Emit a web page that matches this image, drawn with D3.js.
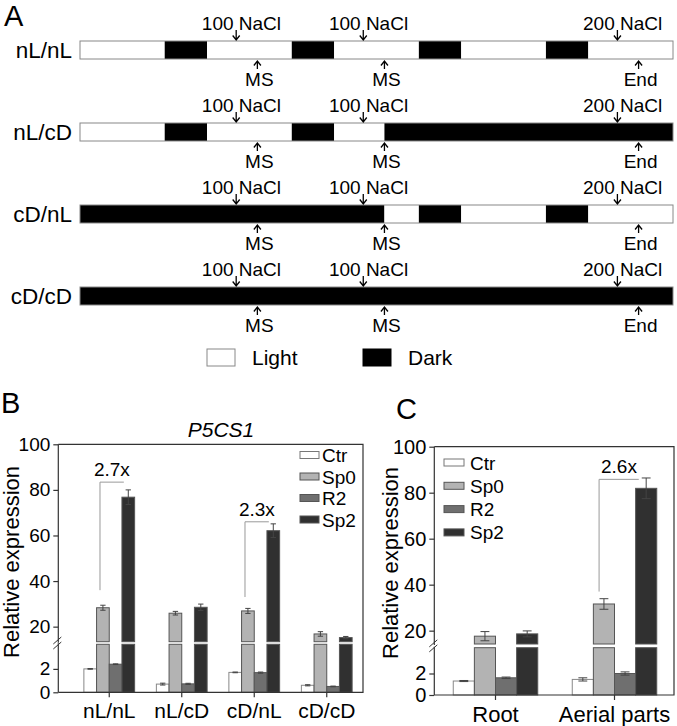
<!DOCTYPE html>
<html>
<head>
<meta charset="utf-8">
<script src="https://cdn.jsdelivr.net/npm/d3@7"></script>
<style>
  body { margin: 0; background: #fff; }
  svg { display: block; font-family: "Liberation Sans", Arial, sans-serif; }
</style>
</head>
<body>
<svg id="fig" width="677" height="726"></svg>
<script>
// ---- panel A: light schedules (hours) ----
const rows = ["nL/nL", "nL/cD", "cD/nL", "cD/cD"];
const schedules = [
    [[0, 16, "L"], [16, 24, "D"], [24, 40, "L"], [40, 48, "D"], [48, 64, "L"], [64, 72, "D"], [72, 88, "L"], [88, 96, "D"], [96, 112, "L"]],
    [[0, 16, "L"], [16, 24, "D"], [24, 40, "L"], [40, 48, "D"], [48, 57.5, "L"], [57.5, 112, "D"]],
    [[0, 57.5, "D"], [57.5, 64, "L"], [64, 72, "D"], [72, 88, "L"], [88, 96, "D"], [96, 112, "L"]],
    [[0, 112, "D"]]
];
const nacl100Times = [29.5, 53.5];
const nacl200Times = [101.5];
const msTimes = [33.5, 57.5];
const endTimes = [105.5];

// ---- panel B ----
const series = ["Ctr", "Sp0", "R2", "Sp2"];
const groupsB = ["nL/nL", "nL/cD", "cD/nL", "cD/cD"];
const ctrB = [2.0, 0.7, 1.7, 0.6];
const sp0B = [28.3, 25.9, 26.9, 16.8];
const r2B = [2.4, 0.72, 1.68, 0.5];
const sp2B = [76.8, 28.5, 62.1, 15.2];
const ctrErrB = [0.03, 0.08, 0.03, 0.05];
const sp0ErrB = [1.1, 0.8, 1.1, 1.0];
const r2ErrB = [0.03, 0.05, 0.05, 0.03];
const sp2ErrB = [3.2, 1.4, 3.0, 0.5];
const foldB = [
    { group: "nL/nL", label: "2.7x", top: 83.4, bottom: 36 },
    { group: "cD/nL", label: "2.3x", top: 66, bottom: 33 }
];

// ---- panel C ----
const groupsC = ["Root", "Aerial parts"];
const ctrC = [1.3, 1.45];
const sp0C = [17.6, 31.6];
const r2C = [1.6, 2.0];
const sp2C = [18.6, 81.9];
const ctrErrC = [0.05, 0.15];
const sp0ErrC = [2.0, 2.3];
const r2ErrC = [0.07, 0.15];
const sp2ErrC = [1.3, 4.5];
const foldC = [
    { group: "Aerial parts", label: "2.6x", top: 85.8, bottom: 37 }
];

const upperTicks = [20, 40, 60, 80, 100];
const lowerTicks = [0, 2];

const fills = { Ctr: "#ffffff", Sp0: "#b3b3b3", R2: "#6f6f6f", Sp2: "#303030" };

const svg = d3.select("#fig");

// ================= Panel A =================
function drawPanelA() {
    const g = svg.append("g");
    const tx = d3.scaleLinear().domain([0, 112]).range([80, 673]);
    const rowTop = d3.scalePoint().domain(rows).range([41, 287]);
    const barH = 18;

    g.append("text").attr("x", 4).attr("y", 26)
        .attr("font-size", 29).text("A");

    rows.forEach((r, i) => {
        const T = rowTop(r);
        const rg = g.append("g");

        rg.selectAll("rect.seg")
            .data(schedules[i])
            .join("rect")
            .attr("x", d => tx(d[0]))
            .attr("width", d => tx(d[1]) - tx(d[0]))
            .attr("y", T)
            .attr("height", barH)
            .attr("fill", d => d[2] === "L" ? "#fff" : "#000");

        rg.append("rect")
            .attr("x", tx(0)).attr("y", T)
            .attr("width", tx(112) - tx(0)).attr("height", barH)
            .attr("fill", "none").attr("stroke", "#888").attr("stroke-width", 1);

        rg.append("text")
            .attr("x", 72).attr("y", T + 16.5)
            .attr("text-anchor", "end")
            .attr("font-size", 22.5)
            .text(r);

        // salt additions: arrows pointing down into the bar
        const salt = nacl100Times.map(t => [t, "100 NaCl"])
            .concat(nacl200Times.map(t => [t, "200 NaCl"]));
        salt.forEach(([t, txt]) => {
            const x = tx(t);
            downArrow(rg, x, T - 11, T - 1);
            const lab = rg.append("text").attr("y", T - 11)
                .attr("font-size", 19).text(txt);
            const n = lab.node();
            const wNum = n.getSubStringLength(0, 3);
            const wSp = n.getSubStringLength(3, 1);
            lab.attr("x", x - wNum - wSp / 2);
        });

        // sampling: arrows pointing up from below
        const samp = msTimes.map(t => [t, "MS"]).concat(endTimes.map(t => [t, "End"]));
        samp.forEach(([t, txt]) => {
            const x = tx(t);
            upArrow(rg, x, T + barH + 2, T + barH + 10);
            rg.append("text")
                .attr("x", x + 2).attr("y", T + barH + 27)
                .attr("text-anchor", "middle")
                .attr("font-size", 19).text(txt);
        });
    });

    // legend
    const lg = g.append("g");
    const items = [["Light", "#fff", 207], ["Dark", "#000", 363]];
    items.forEach(([name, fill, x]) => {
        lg.append("rect").attr("x", x).attr("y", 349)
            .attr("width", 28).attr("height", 17)
            .attr("fill", fill).attr("stroke", fill === "#fff" ? "#888" : "#000");
        lg.append("text").attr("x", x + 45).attr("y", 365)
            .attr("font-size", 21).text(name);
    });
}

function downArrow(g, x, y1, y2) {
    g.append("path")
        .attr("d", `M${x},${y1}V${y2}M${x - 3.5},${y2 - 4.5}L${x},${y2}L${x + 3.5},${y2 - 4.5}`)
        .attr("fill", "none").attr("stroke", "#000").attr("stroke-width", 1.3);
}
function upArrow(g, x, y1, y2) {
    g.append("path")
        .attr("d", `M${x},${y2}V${y1}M${x - 3.5},${y1 + 4.5}L${x},${y1}L${x + 3.5},${y1 + 4.5}`)
        .attr("fill", "none").attr("stroke", "#000").attr("stroke-width", 1.3);
}

// ================= Panels B and C =================
function barPanel(o) {
    const g = svg.append("g");
    const x0 = d3.scaleBand().domain(o.groups).range([o.x0, o.x1])
        .paddingInner(o.padIn).paddingOuter(o.padOut);
    const x1 = d3.scaleBand().domain(series).range([0, x0.bandwidth()]);
    const yU = d3.scaleLinear().domain(o.upDom).range([o.upBottom, o.top]);
    const yL = d3.scaleLinear().domain(o.lowDom).range([o.bottom, o.lowTop]);
    const bw = x1.bandwidth();

    const data = o.groups.flatMap((grp, i) => series.map(s => ({
        grp, s, v: o.vals[s][i], e: o.errs[s][i]
    })));
    const bx = d => x0(d.grp) + x1(d.s);

    // lower segment of each bar
    g.append("g").selectAll("rect")
        .data(data)
        .join("rect")
        .attr("x", bx)
        .attr("width", bw)
        .attr("y", d => yL(Math.min(d.v, o.lowDom[1])))
        .attr("height", d => yL(0) - yL(Math.min(d.v, o.lowDom[1])))
        .attr("fill", d => fills[d.s])
        .attr("stroke", d => d.s === "Ctr" ? "#888" : "#555")
        .attr("stroke-width", 1);

    // upper segment
    g.append("g").selectAll("rect")
        .data(data.filter(d => d.v > o.upDom[0]))
        .join("rect")
        .attr("x", bx)
        .attr("width", bw)
        .attr("y", d => yU(d.v))
        .attr("height", d => yU(o.upDom[0]) - yU(d.v))
        .attr("fill", d => fills[d.s])
        .attr("stroke", d => d.s === "Ctr" ? "#888" : "#555")
        .attr("stroke-width", 1);

    // error bars
    const eg = g.append("g").attr("stroke", "#444").attr("stroke-width", 1).attr("fill", "none");
    data.forEach(d => {
        const y = d.v > o.upDom[0] ? yU : yL;
        const cx = bx(d) + bw / 2;
        const c = bw * 0.21;
        const yt = y(d.v + d.e), yb = y(d.v - d.e);
        eg.append("path")
            .attr("d", `M${cx},${yt}V${yb}M${cx - c},${yt}H${cx + c}M${cx - c},${yb}H${cx + c}`);
    });

    // fold-change brackets
    o.folds.forEach(f => {
        const xl = x0(f.group) + x1("Sp0") + bw * 0.27;
        const xr = x0(f.group) + x1("Sp2") + bw * 0.15;
        g.append("path")
            .attr("d", `M${xl},${yU(f.bottom)}V${yU(f.top)}H${xr}`)
            .attr("fill", "none").attr("stroke", "#999").attr("stroke-width", 1);
        g.append("text")
            .attr("x", (xl + xr) / 2).attr("y", yU(f.top) - 6)
            .attr("text-anchor", "middle")
            .attr("font-size", 19).text(f.label);
    });

    // frame
    const fr = g.append("g").attr("stroke", "#333").attr("stroke-width", 1.2).attr("fill", "none");
    fr.append("path").attr("d", `M${o.left},${o.top}H${o.right}V${o.bottom}H${o.left}`);
    fr.append("path").attr("d", `M${o.left},${o.top}V${o.upBottom + 1}`);
    fr.append("path").attr("d", `M${o.left},${o.lowTop - 1}V${o.bottom}`);
    // break marks
    const gy = (o.upBottom + o.lowTop) / 2;
    fr.append("path")
        .attr("d", `M${o.left - 5},${gy + 1}L${o.left + 3},${gy - 6}M${o.left - 5},${gy + 6}L${o.left + 3},${gy - 1}`)
        .attr("stroke-width", 1);

    // axes
    const styleAxis = (sel, fs) => {
        sel.select(".domain").remove();
        sel.selectAll(".tick line").attr("stroke", "#333").attr("stroke-width", 1.2);
        sel.selectAll(".tick text").attr("font-size", fs).attr("fill", "#000")
            .attr("font-family", "Liberation Sans, Arial, sans-serif");
    };
    g.append("g").attr("transform", `translate(${o.left},0)`)
        .call(d3.axisLeft(yU).tickValues(upperTicks).tickFormat(d3.format("d")).tickSize(5).tickPadding(3))
        .call(s => styleAxis(s, o.tickFont));
    g.append("g").attr("transform", `translate(${o.left},0)`)
        .call(d3.axisLeft(yL).tickValues(lowerTicks).tickFormat(d3.format("d")).tickSize(5).tickPadding(3))
        .call(s => styleAxis(s, o.tickFont));
    g.append("g").attr("transform", `translate(0,${o.bottom})`)
        .call(d3.axisBottom(x0).tickSize(5).tickPadding(6))
        .call(s => styleAxis(s, o.catFont));

    // y label
    g.append("text")
        .attr("transform", `translate(${o.ylabX},${o.ylabY}) rotate(-90)`)
        .attr("text-anchor", "middle")
        .attr("font-size", 22)
        .text("Relative expression");

    // legend
    const lg = g.append("g");
    series.forEach((s, i) => {
        const cy = o.legY + i * o.legStep;
        lg.append("rect")
            .attr("x", o.legX).attr("y", cy - 3.5)
            .attr("width", o.legW).attr("height", 7)
            .attr("fill", fills[s]).attr("stroke", s === "Ctr" ? "#777" : "#555");
        lg.append("text")
            .attr("x", o.legX + o.legTextDx).attr("y", cy + 7)
            .attr("font-size", 19).text(s);
    });

    // panel letter
    g.append("text").attr("x", o.letterX).attr("y", o.letterY)
        .attr("font-size", 29).text(o.letter);
    if (o.title) {
        g.append("text").attr("x", o.titleX).attr("y", o.titleY)
            .attr("text-anchor", "middle")
            .attr("font-size", 21).attr("font-style", "italic")
            .text(o.title);
    }
}

drawPanelA();

barPanel({
    groups: groupsB,
    vals: { Ctr: ctrB, Sp0: sp0B, R2: r2B, Sp2: sp2B },
    errs: { Ctr: ctrErrB, Sp0: sp0ErrB, R2: r2ErrB, Sp2: sp2ErrB },
    folds: foldB,
    x0: 73, x1: 363, padIn: 0.3, padOut: 0.15,
    left: 58.3, right: 363, top: 444.3, bottom: 692.3,
    upDom: [13.4, 100], upBottom: 641.7,
    lowDom: [0, 4.1], lowTop: 644.3,
    tickFont: 19, catFont: 21,
    ylabX: 19, ylabY: 562,
    legX: 300, legY: 455, legStep: 21.5, legW: 19, legTextDx: 22,
    letter: "B", letterX: 1, letterY: 413,
    title: "P5CS1", titleX: 221, titleY: 437
});

barPanel({
    groups: groupsC,
    vals: { Ctr: ctrC, Sp0: sp0C, R2: r2C, Sp2: sp2C },
    errs: { Ctr: ctrErrC, Sp0: sp0ErrC, R2: r2ErrC, Sp2: sp2ErrC },
    folds: foldC,
    x0: 436, x1: 674, padIn: 0.29, padOut: 0.145,
    left: 434.3, right: 674, top: 446.7, bottom: 695,
    upDom: [14.2, 100], upBottom: 644,
    lowDom: [0, 4.4], lowTop: 647.7,
    tickFont: 20, catFont: 22,
    ylabX: 397.5, ylabY: 563,
    legX: 444, legY: 462.5, legStep: 23.3, legW: 20, legTextDx: 26,
    letter: "C", letterX: 396, letterY: 419
});
</script>
</body>
</html>
